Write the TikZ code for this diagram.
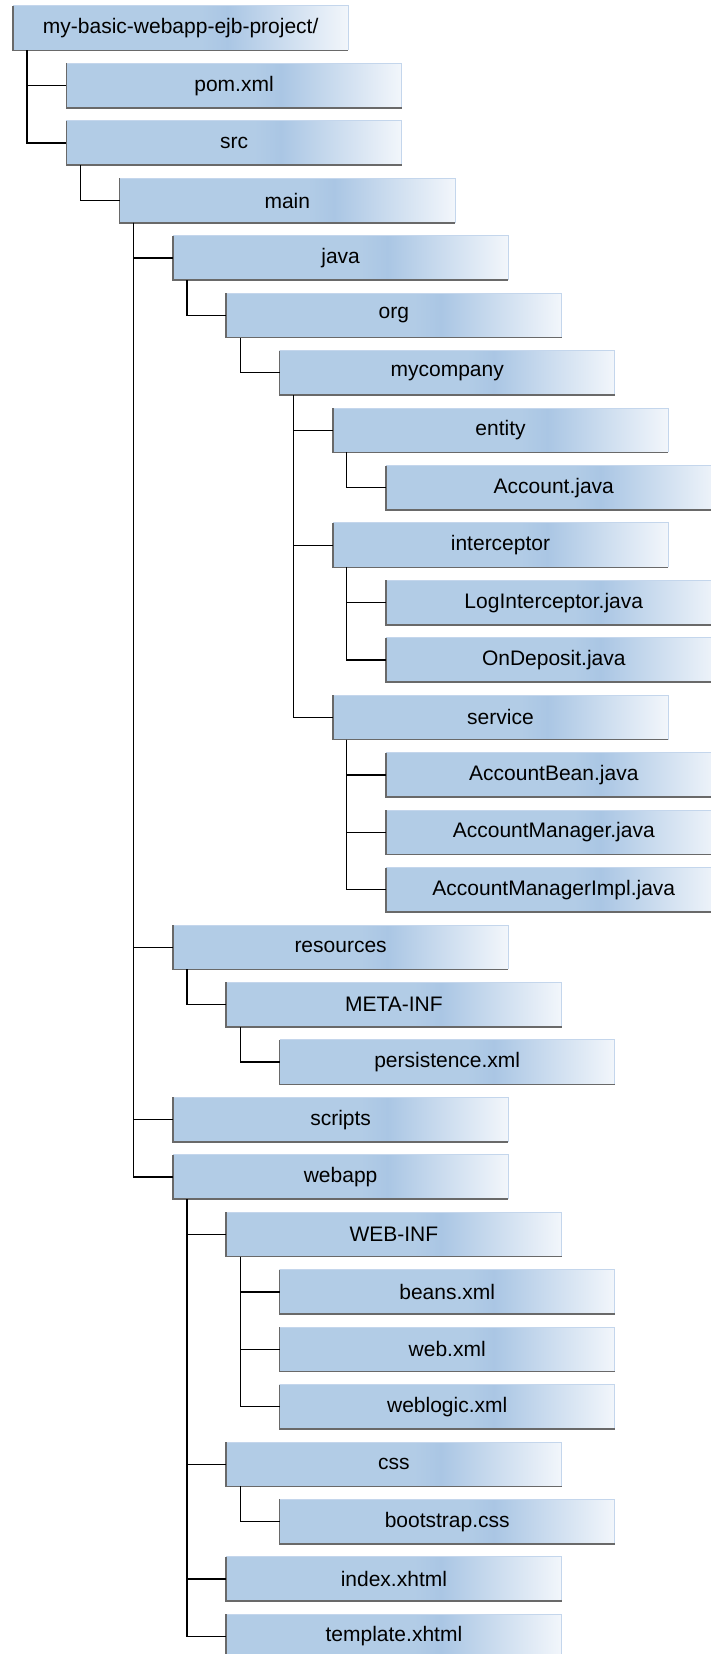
\documentclass[tikz,border=0pt]{standalone}
\usepackage{fontspec}
\setmainfont{Liberation Sans}
\definecolor{cA}{RGB}{178,204,230}
\definecolor{cB}{RGB}{170,198,228}
\definecolor{cC}{RGB}{242,246,251}
\definecolor{edgeDark}{RGB}{105,105,105}
\definecolor{edgeLight}{RGB}{196,214,236}
\pgfdeclarehorizontalshading{boxshade}{100bp}{color(0bp)=(cA); color(25bp)=(cA); color(53bp)=(cA); color(57bp)=(cB); color(75bp)=(cC); color(100bp)=(cC)}
\newcommand\placebox[4]{\node[fbox] (#1) at ({13+53.3*#2},{6+57.44*#3}) {#4};}
\newcommand\linkto[2]{\draw[link] ([xshift=14bp]#1.south west) |- (#2.west);}
\begin{document}
\begin{tikzpicture}[x=1bp,y=-1bp,
  fbox/.style={anchor=north west, minimum width=335bp, minimum height=44bp, inner sep=0pt,
    shading=boxshade, font=\fontsize{21bp}{25bp}\selectfont, text=black},
  link/.style={line width=1.3bp, black},
  darkedge/.style={line width=1.6bp, edgeDark},
  lightedge/.style={line width=1bp, edgeLight}]
\fill[white] (0,0) rectangle (711,1654);
\useasboundingbox (0,0) rectangle (711,1654);
\placebox{root}{0}{0}{my-basic-webapp-ejb-project/}
\placebox{pom}{1}{1}{pom.xml}
\placebox{src}{1}{2}{src}
\placebox{main}{2}{3}{main}
\placebox{java}{3}{4}{java}
\placebox{org}{4}{5}{org}
\placebox{myco}{5}{6}{mycompany}
\placebox{entity}{6}{7}{entity}
\placebox{account}{7}{8}{Account.java}
\placebox{interceptor}{6}{9}{interceptor}
\placebox{logint}{7}{10}{LogInterceptor.java}
\placebox{ondep}{7}{11}{OnDeposit.java}
\placebox{service}{6}{12}{service}
\placebox{acctbean}{7}{13}{AccountBean.java}
\placebox{acctmgr}{7}{14}{AccountManager.java}
\placebox{acctmgrimpl}{7}{15}{AccountManagerImpl.java}
\placebox{resources}{3}{16}{resources}
\placebox{metainf}{4}{17}{META-INF}
\placebox{persist}{5}{18}{persistence.xml}
\placebox{scripts}{3}{19}{scripts}
\placebox{webapp}{3}{20}{webapp}
\placebox{webinf}{4}{21}{WEB-INF}
\placebox{beans}{5}{22}{beans.xml}
\placebox{webxml}{5}{23}{web.xml}
\placebox{weblogic}{5}{24}{weblogic.xml}
\placebox{css}{4}{25}{css}
\placebox{bootstrap}{5}{26}{bootstrap.css}
\placebox{index}{4}{27}{index.xhtml}
\placebox{template}{4}{28}{template.xhtml}
\foreach \n in {root,pom,src,main,java,org,myco,entity,account,interceptor,logint,ondep,service,acctbean,acctmgr,acctmgrimpl,resources,metainf,persist,scripts,webapp,webinf,beans,webxml,weblogic,css,bootstrap,index,template}{
  \draw[lightedge] (\n.south east) -- (\n.north east) -- (\n.north west);
  \draw[darkedge] (\n.north west) -- (\n.south west) -- (\n.south east);
}
\linkto{root}{pom}
\linkto{root}{src}
\linkto{src}{main}
\linkto{main}{java}
\linkto{java}{org}
\linkto{org}{myco}
\linkto{myco}{entity}
\linkto{entity}{account}
\linkto{myco}{interceptor}
\linkto{interceptor}{logint}
\linkto{interceptor}{ondep}
\linkto{myco}{service}
\linkto{service}{acctbean}
\linkto{service}{acctmgr}
\linkto{service}{acctmgrimpl}
\linkto{main}{resources}
\linkto{resources}{metainf}
\linkto{metainf}{persist}
\linkto{main}{scripts}
\linkto{main}{webapp}
\linkto{webapp}{webinf}
\linkto{webinf}{beans}
\linkto{webinf}{webxml}
\linkto{webinf}{weblogic}
\linkto{webapp}{css}
\linkto{css}{bootstrap}
\linkto{webapp}{index}
\linkto{webapp}{template}
\end{tikzpicture}
\end{document}
